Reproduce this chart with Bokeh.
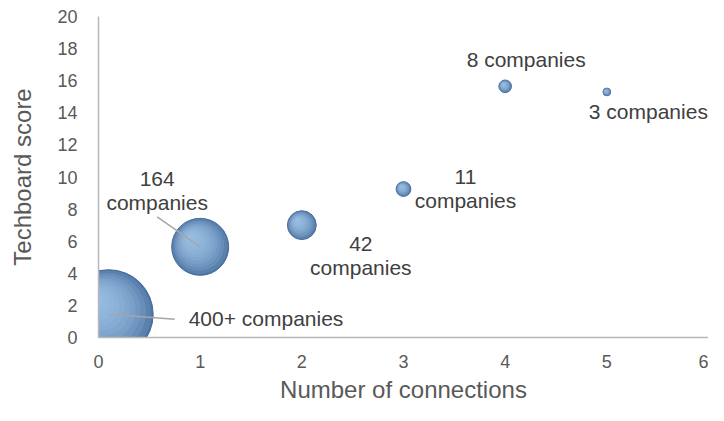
import numpy as np
from bokeh.plotting import figure
from bokeh.models import Range1d, FixedTicker, LabelSet, ColumnDataSource
from bokeh.core.properties import value
from bokeh.embed import file_html
from bokeh.resources import INLINE

# ---- data ----
connections = [0.1, 1, 2, 3, 4, 5]
scores = [1.45, 5.65, 7.0, 9.25, 15.65, 15.3]
companies = [400, 164, 42, 11, 8, 3]
labels = ["400+ companies", "164\ncompanies", "42\ncompanies",
          "11\ncompanies", "8 companies", "3 companies"]
x_ticks = [0, 1, 2, 3, 4, 5, 6]
y_ticks = [0, 2, 4, 6, 8, 10, 12, 14, 16, 18, 20]
x_title = "Number of connections"
y_title = "Techboard score"

# ---- layout / style ----
W, H = 708, 405
B_LEFT, B_RIGHT, B_TOP, B_BOTTOM = 98, 0, 16, 67
X_MAX, Y_MAX = 6, 20
FRAME_W = W - B_LEFT - B_RIGHT
FRAME_H = H - B_TOP - B_BOTTOM
PX_X = FRAME_W / X_MAX
PX_Y = FRAME_H / Y_MAX
K = 2.2255  # bubble radius (px) per sqrt(companies)
FONT = "Arial"

# label placement: (align, dx px, first baseline dy px (up +))
label_pos = [("left", 80, -12), ("center", -43, 61), ("center", 59, -26),
             ("center", 62, 5), ("center", 21, 19), ("left", -18, -27)]
LINE_GAP = 24
# leader lines (screen px offsets from bubble centre), by bubble index
leaders = {0: (66, -5), 1: (-43, 30)}

p = figure(width=W, height=H,
           x_range=Range1d(0, X_MAX), y_range=Range1d(0, Y_MAX),
           output_backend="svg", toolbar_location=None,
           min_border_left=B_LEFT, min_border_right=B_RIGHT,
           min_border_top=B_TOP, min_border_bottom=B_BOTTOM)
p.grid.visible = False
p.outline_line_color = None
p.background_fill_color = "white"
p.border_fill_color = "white"

p.xaxis.axis_label = x_title
p.yaxis.axis_label = y_title
p.xaxis.ticker = FixedTicker(ticks=x_ticks)
p.yaxis.ticker = FixedTicker(ticks=y_ticks)
for ax in (p.xaxis[0], p.yaxis[0]):
    ax.axis_line_color = "#b8b8b8"
    ax.axis_line_width = 1.5
    ax.major_tick_line_color = None
    ax.minor_tick_line_color = None
    ax.major_label_text_font = FONT
    ax.major_label_text_font_size = "18px"
    ax.major_label_text_color = "#595959"
    ax.axis_label_text_font = FONT
    ax.axis_label_text_font_size = "24px"
    ax.axis_label_text_font_style = "normal"
    ax.axis_label_text_color = "#595959"
p.xaxis.major_label_standoff = 11
p.xaxis.axis_label_standoff = 5
p.yaxis.major_label_standoff = 15
p.yaxis.axis_label_standoff = 18

# ---- bubbles (shaded spheres via layered circles) ----
cx = np.array(connections, dtype=float)
cy = np.array(scores, dtype=float)
r = K * np.sqrt(np.array(companies, dtype=float))
p.scatter(cx, cy, size=2 * r, marker="circle",
          fill_color="#4c73a3", line_color="#466b98", line_width=1)
N = 11
hx, hy = -0.36 * r, 0.36 * r  # highlight direction (px)
for i in range(N):
    s = 0.97 - i * (0.87 / (N - 1))
    ox = (1 - s) * hx / PX_X
    oy = (1 - s) * hy / PX_Y
    p.scatter(cx + ox, cy + oy, size=2 * r * s, marker="circle",
              fill_color="#a8c8ee", fill_alpha=0.17, line_color=None)

# ---- leader lines ----
for i, (dx, dy) in leaders.items():
    p.segment(x0=[cx[i]], y0=[cy[i]], x1=[cx[i] + dx / PX_X], y1=[cy[i] + dy / PX_Y],
              line_color="#a6a6a6", line_width=1.5)

# ---- labels ----
rows = {"left": dict(x=[], y=[], t=[], xo=[], yo=[]),
        "center": dict(x=[], y=[], t=[], xo=[], yo=[])}
for i, lab in enumerate(labels):
    align, dx, dy = label_pos[i]
    for j, line in enumerate(lab.split("\n")):
        d = rows[align]
        d["x"].append(cx[i]); d["y"].append(cy[i]); d["t"].append(line)
        d["xo"].append(dx); d["yo"].append(dy - j * LINE_GAP)
for align, d in rows.items():
    ls = LabelSet(x="x", y="y", text="t", x_offset="xo", y_offset="yo",
                  source=ColumnDataSource(d), text_align=align,
                  text_baseline="alphabetic", text_font=value(FONT),
                  text_font_size=value("21px"), text_color=value("#404040"))
    p.add_layout(ls)

open("out.html", "w").write(file_html(p, INLINE))
